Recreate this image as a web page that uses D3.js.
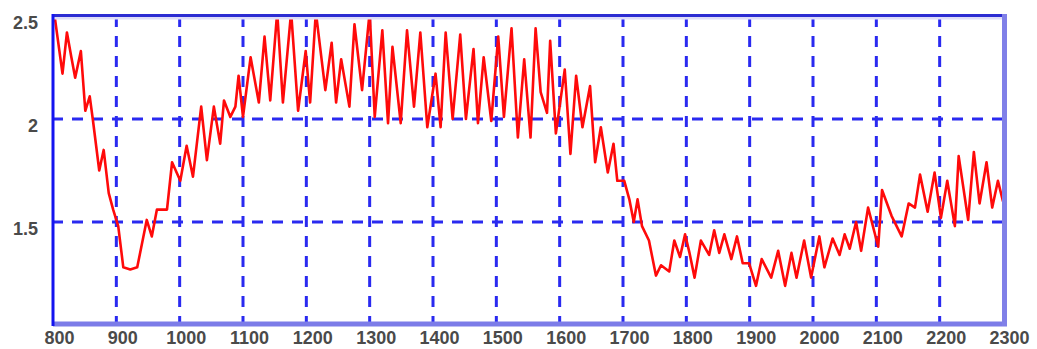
<!DOCTYPE html>
<html>
<head>
<meta charset="utf-8">
<script src="https://cdn.jsdelivr.net/npm/d3@7"></script>
<style>
    body { margin: 0; background: #fff; }
    svg { display: block; }
    .tick text { font-family: "Liberation Sans", Arial, sans-serif; font-size: 18px; font-weight: bold; fill: #4a4a4a; }
</style>
</head>
<body>
<svg id="plot" width="1037" height="349"></svg>
<script>
// tick labels
var xTicks = [800, 900, 1000, 1100, 1200, 1300, 1400, 1500, 1600, 1700, 1800, 1900, 2000, 2100, 2200, 2300];
var yTicks = [1.5, 2, 2.5];

// red series
var years = [800, 803, 815, 822, 829, 835, 844, 851, 858, 863, 873, 880, 888, 895, 903, 911, 922, 933, 948, 956,
    964, 980, 988, 1001, 1011, 1021, 1034, 1043, 1054, 1064, 1070, 1080, 1088, 1093, 1100, 1112, 1125, 1134, 1143, 1154,
    1163, 1176, 1187, 1199, 1206, 1215, 1230, 1240, 1247, 1255, 1268, 1276, 1288, 1300, 1308, 1320, 1329, 1336, 1349, 1359,
    1370, 1380, 1391, 1404, 1412, 1420, 1431, 1443, 1452, 1464, 1471, 1480, 1492, 1503, 1512, 1524, 1534, 1544, 1554, 1562,
    1570, 1580, 1585, 1594, 1608, 1617, 1626, 1636, 1648, 1656, 1665, 1676, 1685, 1691, 1702, 1710, 1717, 1723, 1730, 1741,
    1752, 1760, 1773, 1781, 1790, 1798, 1805, 1813, 1823, 1836, 1844, 1852, 1860, 1871, 1880, 1889, 1899, 1910, 1919, 1934,
    1945, 1956, 1966, 1974, 1986, 1997, 2010, 2018, 2031, 2042, 2050, 2058, 2068, 2076, 2087, 2103, 2109, 2124, 2140, 2151,
    2161, 2169, 2181, 2192, 2202, 2212, 2224, 2230, 2245, 2254, 2263, 2274, 2283, 2292, 2300];
var values = [2.52, 2.49, 2.22, 2.42, 2.30, 2.20, 2.33, 2.04, 2.11, 1.995, 1.75, 1.85, 1.64, 1.56, 1.48, 1.28, 1.27, 1.28, 1.51, 1.43,
    1.56, 1.56, 1.79, 1.70, 1.87, 1.72, 2.06, 1.80, 2.06, 1.88, 2.09, 2.01, 2.06, 2.21, 2.01, 2.30, 2.08, 2.40, 2.09, 2.52,
    2.08, 2.52, 2.04, 2.33, 2.08, 2.52, 2.14, 2.37, 2.08, 2.29, 2.06, 2.46, 2.14, 2.52, 2.01, 2.43, 1.98, 2.35, 1.98, 2.43,
    2.06, 2.42, 1.96, 2.22, 1.96, 2.42, 2.00, 2.41, 2.00, 2.34, 1.98, 2.30, 1.99, 2.40, 2.01, 2.44, 1.91, 2.29, 1.91, 2.44,
    2.13, 2.03, 2.38, 1.93, 2.24, 1.83, 2.21, 1.96, 2.16, 1.79, 1.96, 1.74, 1.88, 1.70, 1.70, 1.61, 1.50, 1.61, 1.48, 1.41,
    1.24, 1.29, 1.26, 1.41, 1.33, 1.44, 1.35, 1.23, 1.41, 1.34, 1.46, 1.35, 1.44, 1.32, 1.43, 1.30, 1.30, 1.19, 1.32, 1.23,
    1.36, 1.19, 1.35, 1.23, 1.41, 1.23, 1.43, 1.28, 1.42, 1.34, 1.44, 1.37, 1.50, 1.36, 1.57, 1.38, 1.655, 1.53, 1.43, 1.59,
    1.57, 1.73, 1.55, 1.74, 1.52, 1.70, 1.48, 1.82, 1.51, 1.84, 1.59, 1.79, 1.57, 1.70, 1.60];

d3.select(window).on('load', init);

function init() {
    plotSeries();
}

function plotSeries() {
    let svg = d3.select('#plot');

    let left = 53, right = 1003, top = 16, bottom = 325;

    let x = d3.scaleLinear().domain([800, 2300]).range([left, right]);
    let y = d3.scaleLinear().domain([1, 2.5]).range([bottom, top]);

    let data = years.map(function(d, i) { return {year: d, value: values[i]}; });

    svg.append("defs").append("clipPath")
        .attr("id", "clip")
        .append("rect")
        .attr("x", left).attr("y", top)
        .attr("width", right - left).attr("height", bottom - top);

    // dashed grid
    svg.append("g").selectAll("line")
        .data(xTicks.slice(1, -1))
        .enter().append("line")
        .attr("x1", function(d) { return x(d); })
        .attr("x2", function(d) { return x(d); })
        .attr("y1", top)
        .attr("y2", bottom)
        .attr("stroke", "#2a2af0")
        .attr("stroke-width", 3)
        .attr("stroke-dasharray", "11,9");

    svg.append("g").selectAll("line")
        .data(yTicks.slice(0, -1))
        .enter().append("line")
        .attr("x1", right)
        .attr("x2", left)
        .attr("y1", function(d) { return y(d); })
        .attr("y2", function(d) { return y(d); })
        .attr("stroke", "#2a2af0")
        .attr("stroke-width", 3)
        .attr("stroke-dasharray", "11,9");

    let line = d3.line()
        .x(function(d) { return x(d.year); })
        .y(function(d) { return y(d.value); });

    svg.append("path")
        .datum(data)
        .attr("clip-path", "url(#clip)")
        .attr("fill", "none")
        .attr("stroke", "#ff0a0a")
        .attr("stroke-width", 2.6)
        .attr("stroke-linejoin", "round")
        .attr("d", line);

    // frame
    svg.append("line").attr("x1", left).attr("x2", right + 3).attr("y1", top + 2).attr("y2", top + 2)
        .attr("stroke", "#dedcf8").attr("stroke-width", 3);
    svg.append("line").attr("x1", left - 1).attr("x2", right + 3).attr("y1", top - 0.5).attr("y2", top - 0.5)
        .attr("stroke", "#2c2cd2").attr("stroke-width", 3);
    svg.append("line").attr("x1", left).attr("x2", right + 4).attr("y1", bottom - 1).attr("y2", bottom - 1)
        .attr("stroke", "#7c7ce8").attr("stroke-width", 5);
    svg.append("line").attr("x1", right + 1.5).attr("x2", right + 1.5).attr("y1", top - 2).attr("y2", bottom + 1)
        .attr("stroke", "#8080e8").attr("stroke-width", 5);
    svg.append("line").attr("x1", left).attr("x2", left).attr("y1", top - 2).attr("y2", bottom + 1)
        .attr("stroke", "#1414f0").attr("stroke-width", 3);

    let xAxis = d3.axisBottom(x)
        .tickValues(xTicks)
        .tickSize(0)
        .tickFormat(d3.format("d"));

    let yAxis = d3.axisLeft(y)
        .tickValues(yTicks)
        .tickSize(0)
        .tickFormat(d3.format(""));

    function customXAxis(g) {
        g.call(xAxis);
        g.select(".domain").remove();
        g.selectAll(".tick text").attr("y", 19).attr("dy", 0).attr("dx", 6);
    }

    function customYAxis(g) {
        g.call(yAxis);
        g.select(".domain").remove();
        g.selectAll(".tick text").attr("x", -15).attr("dy", 12);
    }

    svg.append("g")
        .attr("transform", "translate(0," + bottom + ")")
        .call(customXAxis);

    svg.append("g")
        .attr("transform", "translate(" + left + ",0)")
        .call(customYAxis);
}
</script>
</body>
</html>
